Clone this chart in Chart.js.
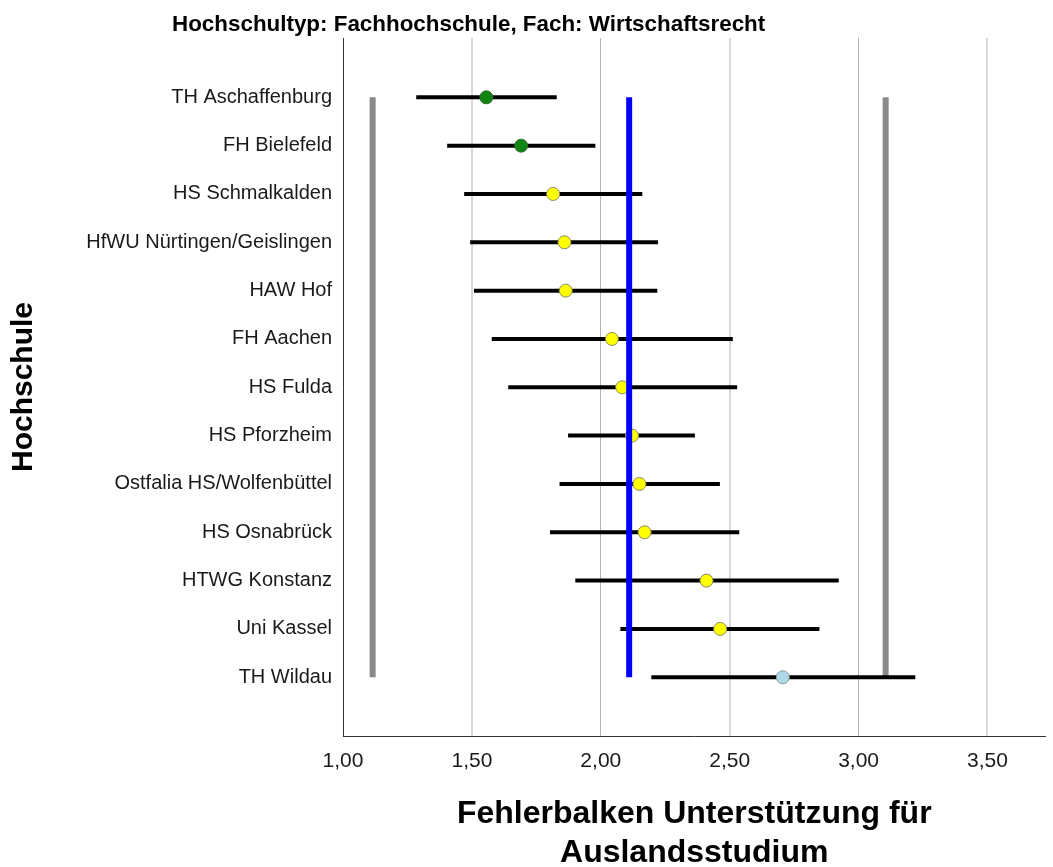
<!DOCTYPE html>
<html>
<head>
<meta charset="utf-8">
<script src="https://cdn.jsdelivr.net/npm/chart.js@4.4.1/dist/chart.umd.min.js"></script>
<style>
  html, body { margin: 0; padding: 0; background: #ffffff; }
  #wrap { width: 1053px; height: 867px; }
</style>
</head>
<body>
<div id="wrap"><canvas id="c" width="1053" height="867"></canvas></div>
<script>
// ---- data ----
const chartTitle = 'Hochschultyp: Fachhochschule, Fach: Wirtschaftsrecht';
const categories = [
  'TH Aschaffenburg', 'FH Bielefeld', 'HS Schmalkalden', 'HfWU Nürtingen/Geislingen',
  'HAW Hof', 'FH Aachen', 'HS Fulda', 'HS Pforzheim', 'Ostfalia HS/Wolfenbüttel',
  'HS Osnabrück', 'HTWG Konstanz', 'Uni Kassel', 'TH Wildau'
];
const lowerCI = [1.284, 1.404, 1.470, 1.493, 1.508, 1.577, 1.641, 1.873, 1.840, 1.803, 1.901, 2.076, 2.196];
const means   = [1.556, 1.691, 1.815, 1.859, 1.864, 2.043, 2.083, 2.121, 2.150, 2.170, 2.410, 2.463, 2.706];
const upperCI = [1.829, 1.979, 2.161, 2.222, 2.219, 2.512, 2.529, 2.365, 2.462, 2.537, 2.923, 2.848, 3.220];
const groups  = ['low', 'low', 'mid', 'mid', 'mid', 'mid', 'mid', 'mid', 'mid', 'mid', 'mid', 'mid', 'high'];
const overallMean = 2.11;
const refLower = 1.115;
const refUpper = 3.105;
const xTickValues = [1.0, 1.5, 2.0, 2.5, 3.0, 3.5];
const xTitle = ['Fehlerbalken Unterstützung für', 'Auslandsstudium'];
const yTitle = 'Hochschule';

// ---- styles ----
const FONT = '"Liberation Sans", Arial, Helvetica, sans-serif';
const groupColor = { low: '#118511', mid: '#ffff00', high: '#add8e6' };
const groupBorder = { low: '#2f6a2f', mid: '#8a8a6a', high: '#8a9aa0' };
const firstRow = 0, lastRow = categories.length - 1;

const datasets = [];

// reference lines (gray)
[refLower, refUpper].forEach(v => {
  datasets.push({
    type: 'line', order: 4,
    data: [{x: v, y: firstRow}, {x: v, y: lastRow}],
    borderColor: '#8a8a8a', borderWidth: 6, borderCapStyle: 'butt',
    pointRadius: 0, fill: false, tension: 0
  });
});

// error bars
categories.forEach((c, i) => {
  datasets.push({
    type: 'line', order: 3,
    data: [{x: lowerCI[i], y: i}, {x: upperCI[i], y: i}],
    borderColor: '#000000', borderWidth: 4, borderCapStyle: 'butt',
    pointRadius: 0, fill: false, tension: 0
  });
});

// means
datasets.push({
  type: 'scatter', order: 2,
  data: means.map((m, i) => ({x: m, y: i})),
  pointRadius: 6.5,
  pointBackgroundColor: groups.map(g => groupColor[g]),
  pointBorderColor: groups.map(g => groupBorder[g]),
  pointBorderWidth: 1
});

// overall mean (blue)
datasets.push({
  type: 'line', order: 1,
  data: [{x: overallMean, y: firstRow}, {x: overallMean, y: lastRow}],
  borderColor: '#0000ff', borderWidth: 6, borderCapStyle: 'butt',
  pointRadius: 0, fill: false, tension: 0
});

const titlePlugin = {
  id: 'topTitle',
  afterDraw(chart) {
    const ctx = chart.ctx;
    ctx.save();
    ctx.font = 'bold 22.4px ' + FONT;
    ctx.fillStyle = '#000000';
    ctx.textAlign = 'left';
    ctx.textBaseline = 'alphabetic';
    ctx.fillText(chartTitle, 172, 30.5);
    ctx.restore();
  }
};

new Chart(document.getElementById('c'), {
  type: 'scatter',
  data: { datasets },
  plugins: [titlePlugin],
  options: {
    responsive: false,
    devicePixelRatio: 1,
    animation: false,
    events: [],
    layout: { padding: { top: 38, right: 0, left: 0, bottom: 0 } },
    plugins: { legend: { display: false }, tooltip: { enabled: false }, title: { display: false } },
    scales: {
      x: {
        type: 'linear', position: 'bottom',
        min: 1.0, max: 3.725,
        afterBuildTicks: (scale) => { scale.ticks = xTickValues.map(v => ({ value: v })); },
        afterFit: (scale) => { scale.height = 131; },
        ticks: {
          padding: 13,
          color: '#1a1a1a',
          font: { family: FONT, size: 21 },
          callback: (v) => Number(v).toFixed(2).replace('.', ',')
        },
        grid: {
          drawTicks: false,
          color: (ctx) => (ctx.tick && Math.abs(ctx.tick.value % 1) < 1e-9) ? '#b4b4b4' : '#d8d8d8',
          lineWidth: (ctx) => (ctx.tick && Math.abs(ctx.tick.value % 1) < 1e-9) ? 1 : 2
        },
        border: { display: true, color: '#333333', width: 1 },
        title: {
          display: true, text: xTitle, color: '#000000',
          font: { family: FONT, size: 32, weight: 'bold', lineHeight: 1.2 },
          padding: { top: 0, bottom: -5 }
        }
      },
      y: {
        type: 'linear', position: 'left', reverse: true,
        min: -1.227, max: 13.215,
        afterBuildTicks: (scale) => { scale.ticks = categories.map((c, i) => ({ value: i })); },
        afterFit: (scale) => { scale.width = 343; },
        ticks: {
          padding: 11,
          color: '#1a1a1a',
          font: { family: FONT, size: 20 },
          callback: (v) => categories[v] !== undefined ? categories[v] : ''
        },
        grid: { display: false, drawTicks: false },
        border: { display: true, color: '#333333', width: 1 },
        title: {
          display: true, text: yTitle, color: '#000000',
          font: { family: FONT, size: 30, weight: 'bold', lineHeight: 1.2 },
          padding: { top: 6, bottom: 0 }
        }
      }
    }
  }
});
</script>
</body>
</html>
